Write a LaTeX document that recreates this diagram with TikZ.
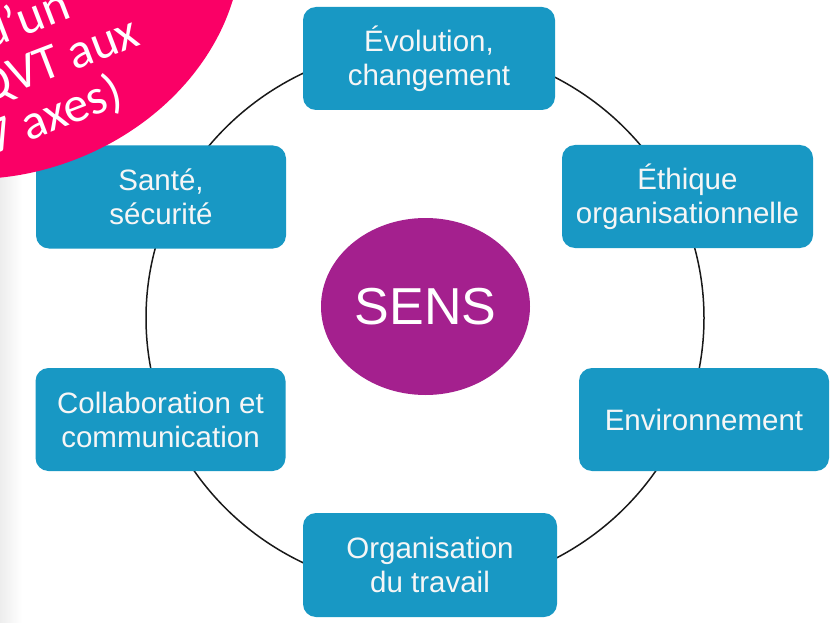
\documentclass[tikz,border=0pt]{standalone}
\usepackage{fontspec}
\setmainfont{Liberation Sans}
\newfontfamily\blobfont{Carlito}
\usetikzlibrary{shapes.geometric}

\definecolor{boxblue}{RGB}{24,152,196}
\definecolor{senspurple}{RGB}{164,32,142}
\definecolor{blobpink}{RGB}{250,0,102}
\definecolor{lighttext}{RGB}{246,246,246}

\begin{document}
\begin{tikzpicture}[x=1pt,y=-1pt,
  theme/.style={fill=boxblue, rounded corners=13pt, minimum width=250pt,
    minimum height=103pt, inner sep=0pt, text=lighttext, align=center,
    font=\fontsize{29.5}{34}\selectfont},
  core/.style={ellipse, fill=senspurple, minimum width=209pt,
    minimum height=177pt, inner sep=0pt, text=white,
    font=\fontsize{52}{60}\selectfont},
  ring/.style={draw=black!90, line width=1.5pt},
  blobtext/.style={rotate=21, anchor=east, inner sep=0pt, text=white,
    align=right, font=\blobfont\fontsize{50}{50}\selectfont}]
\useasboundingbox (0,0) rectangle (833,623);
\fill[white] (0,0) rectangle (833,623);
% faint grey band along the left edge
\shade[left color=black!7, right color=white] (0,0) rectangle (22,623);

% ring linking the six themes
\draw[ring] (425,318) ellipse [x radius=279, y radius=272];

% central idea
\node[core] (sens) at (425.5,306.5) {SENS};

% six themes around the ring
\node[theme, minimum width=252pt] (evol) at (429,58.5) {Évolution,\\changement};
\node[theme, minimum width=251pt] (ethique) at (687.5,196.5) {Éthique\\organisationnelle};
\node[theme] (env) at (704,419.5) {Environnement};
\node[theme, minimum width=254pt, minimum height=104pt] (orga) at (430,565) {Organisation\\du travail};
\node[theme] (collab) at (160.5,419.5) {Collaboration et\\communication};
\node[theme] (sante) at (161,197) {Santé,\\sécurité};

% pink callout in the corner
\begin{scope}
\clip (0,0) rectangle (833,623);
\fill[blobpink, rotate around={21:(3,-27)}] (3,-27) ellipse [x radius=243, y radius=200];
\node[blobtext] (callout) at (137,31) {d’un\hspace*{55pt}\\QVT aux\\7 axes)\hspace*{37pt}};
\end{scope}
\end{tikzpicture}
\end{document}
